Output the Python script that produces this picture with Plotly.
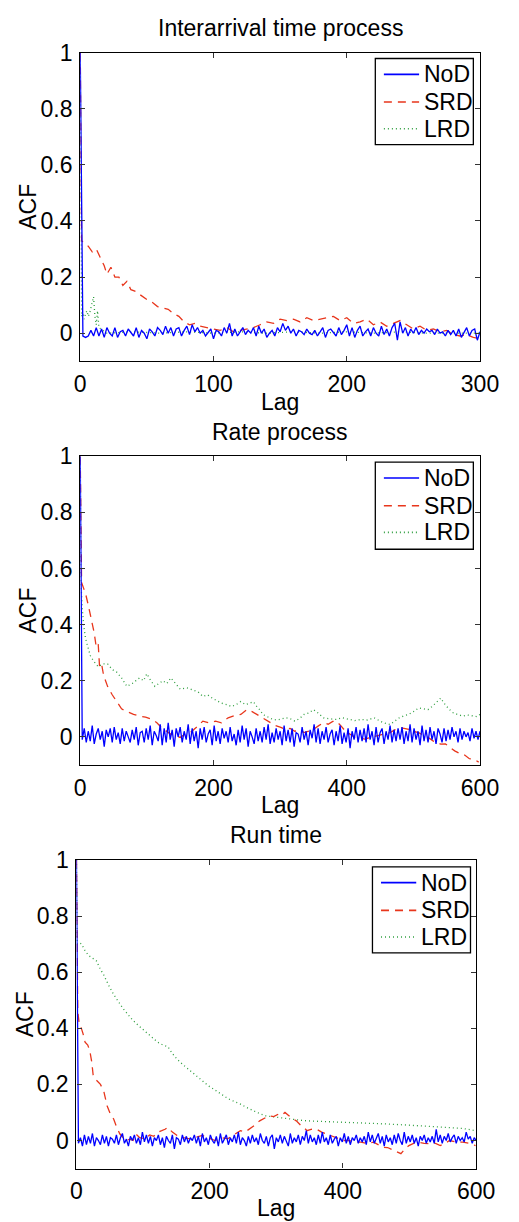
import plotly.graph_objects as go

# ---------------- data ----------------
TITLES = ["Interarrival time process", "Rate process", "Run time"]
SERIES = ["NoD", "SRD", "LRD"]

# Panel 1: Interarrival time process
LAG1_NOD = list(range(0, 301, 2))
NOD1 = [1.0, -0.01, -0.015, -0.01, 0.01, -0.01, 0.02, -0.01, 0.015, -0.015, 0.02, 0.0, -0.01, 0.02, -0.015, 0.005, 0.01, -0.01, 0.015, 0.0,
        -0.01, 0.02, -0.015, 0.01, 0.0, -0.02, 0.015, 0.005, -0.01, 0.02, 0.01, -0.005, 0.025, 0.0, 0.02, -0.01, 0.015, 0.02, -0.01, 0.01,
        0.025, -0.005, 0.03, 0.005, 0.02, 0.0, 0.01, -0.01, 0.005, 0.015, -0.02, 0.01, 0.005, -0.01, 0.02, 0.0, 0.035, -0.01, 0.015, -0.01,
        0.005, 0.02, -0.005, 0.01, 0.0, 0.02, -0.01, 0.025, 0.0, 0.015, -0.015, 0.0, 0.01, -0.01, 0.02, 0.005, 0.035, 0.01, 0.025, 0.0,
        0.015, -0.01, 0.01, 0.005, -0.005, 0.015, 0.0, -0.005, 0.01, -0.01, 0.005, 0.02, -0.015, 0.01, 0.015, 0.0, -0.01, 0.02, -0.005, 0.01,
        0.03, -0.01, 0.02, -0.015, 0.01, 0.025, -0.01, 0.005, 0.015, -0.01, 0.02, 0.0, -0.01, 0.025, -0.005, 0.015, -0.01, 0.02, 0.035, -0.025,
        0.04, 0.0, 0.02, -0.01, 0.015, 0.0, 0.02, -0.005, 0.01, 0.0, 0.015, 0.005, 0.01, -0.005, 0.015, 0.0, 0.005, -0.01, 0.01, -0.005,
        0.01, -0.01, 0.015, -0.015, 0.005, 0.02, -0.01, 0.01, 0.015, -0.025, 0.005]
LAG1_SRD = [0, 1, 3, 6, 9, 12, 15, 18, 20, 23,
            26, 29, 32, 35, 38, 41, 44, 47, 50, 54,
            58, 62, 66, 70, 74, 78, 82, 86, 90, 95,
            100, 105, 110, 115, 120, 125, 130, 135, 140, 145,
            150, 155, 160, 165, 170, 175, 180, 185, 190, 195,
            200, 205, 210, 215, 220, 225, 230, 235, 240, 245,
            250, 255, 260, 265, 270, 275, 280, 285, 290, 295,
            300]
SRD1 = [1.0, 0.33, 0.32, 0.31, 0.29, 0.30, 0.27, 0.24, 0.21, 0.235,
        0.20, 0.20, 0.17, 0.185, 0.155, 0.15, 0.14, 0.13, 0.12, 0.11,
        0.095, 0.09, 0.085, 0.07, 0.06, 0.04, 0.03, 0.035, 0.025, 0.02,
        0.015, 0.01, 0.02, 0.005, 0.01, 0.015, 0.02, 0.03, 0.04, 0.035,
        0.05, 0.045, 0.05, 0.04, 0.055, 0.045, 0.05, 0.055, 0.06, 0.045,
        0.055, 0.035, 0.04, 0.05, 0.03, 0.04, 0.025, 0.035, 0.045, 0.03,
        0.015, 0.025, 0.01, 0.015, 0.005, 0.01, -0.005, -0.01, -0.005, -0.015,
        -0.02]
LAG1_LRD = [0, 1, 2, 3, 4, 5, 6, 7, 8, 9, 10, 11, 12, 13, 14,
            20, 40, 60, 80, 100, 120, 140, 160, 180, 200, 220, 240, 260, 280, 300]
LRD1 = [1.0, 0.06, 0.07, 0.05, 0.07, 0.08, 0.06, 0.07, 0.09, 0.11, 0.13, 0.06, 0.03, 0.08, 0.02,
        0.0, 0.005, 0.0, 0.005, 0.0, 0.005, 0.0, 0.005, 0.0, 0.005, 0.0, 0.005, 0.0, 0.0, 0.0]

# Panel 2: Rate process
LAG2_NOD = list(range(0, 601, 3))
NOD2 = [1.0, -0.01, 0.03, -0.02, 0.02, -0.015, 0.04, -0.025, 0.01, 0.03, -0.01, 0.02, -0.035, 0.025, 0.0, 0.03, -0.02, 0.035, -0.01, 0.015,
        -0.025, 0.03, -0.015, 0.02, 0.0, -0.02, 0.025, -0.01, 0.035, -0.03, 0.015, 0.02, -0.02, 0.03, -0.01, 0.04, -0.03, 0.02, 0.005, -0.015,
        0.045, -0.03, 0.03, -0.02, 0.05, -0.01, 0.025, -0.035, 0.03, 0.0, 0.035, -0.02, 0.02, -0.01, 0.045, -0.025, 0.03, -0.015, 0.02, -0.04,
        0.03, -0.01, 0.035, -0.02, 0.01, 0.025, -0.03, 0.04, -0.015, 0.02, -0.025, 0.03, -0.005, 0.02, -0.02, 0.035, -0.015, 0.01, -0.03, 0.025,
        -0.02, 0.04, -0.01, 0.03, -0.035, 0.02, 0.0, -0.025, 0.03, -0.015, 0.02, -0.02, 0.035, -0.01, 0.045, -0.025, 0.015, -0.02, 0.03, -0.01,
        0.02, -0.03, 0.04, -0.015, 0.025, -0.02, 0.03, -0.035, 0.015, 0.01, -0.02, 0.035, -0.01, 0.02, -0.03, 0.025, -0.005, 0.045, -0.02, 0.03,
        -0.025, 0.02, -0.01, 0.035, -0.02, 0.01, 0.025, -0.03, 0.02, -0.015, 0.04, -0.025, 0.015, -0.02, 0.03, -0.04, 0.02, -0.01, 0.035, -0.02,
        0.025, -0.015, 0.03, -0.02, 0.045, -0.01, 0.02, -0.03, 0.035, -0.02, 0.015, 0.03, -0.025, 0.02, -0.01, 0.04, -0.02, 0.025, -0.015, 0.03,
        -0.01, 0.035, -0.025, 0.02, -0.015, 0.045, -0.02, 0.03, -0.01, 0.02, -0.03, 0.04, -0.015, 0.025, -0.02, 0.035, -0.01, 0.02, -0.025, 0.03,
        0.01, -0.02, 0.03, -0.015, 0.025, -0.01, 0.035, 0.0, 0.02, -0.02, 0.03, -0.01, 0.02, 0.0, 0.015, -0.015, 0.03, -0.005, 0.02, -0.01,
        0.02]
LAG2_SRD = [0, 1, 2, 5, 8, 12, 17, 21, 24, 27,
            29, 32, 35, 41, 48, 55, 62, 70, 80, 89,
            98, 108, 115, 122, 129, 136, 143, 150, 158, 165,
            175, 184, 193, 203, 212, 222, 231, 241, 250, 258,
            265, 272, 279, 286, 293, 300, 308, 315, 322, 329,
            336, 343, 350, 358, 365, 372, 379, 384, 391, 398,
            405, 412, 420, 427, 436, 446, 455, 465, 472, 479,
            486, 493, 500, 508, 515, 522, 530, 541, 548, 555,
            562, 570, 577, 584, 591, 598]
SRD2 = [1.0, 0.6, 0.55, 0.53, 0.51, 0.47, 0.42, 0.37, 0.32, 0.33,
        0.25, 0.26, 0.22, 0.18, 0.15, 0.126, 0.10, 0.09, 0.08, 0.074,
        0.07, 0.062, 0.05, 0.033, 0.02, 0.009, 0.005, -0.002, 0.01, 0.015,
        0.035, 0.056, 0.05, 0.056, 0.05, 0.068, 0.075, 0.08, 0.097, 0.09,
        0.08, 0.07, 0.062, 0.05, 0.04, 0.035, 0.027, 0.03, 0.02, 0.025,
        0.015, 0.02, 0.027, 0.04, 0.05, 0.045, 0.055, 0.056, 0.04, 0.02,
        0.01, -0.002, -0.005, -0.008, -0.002, 0.003, 0.01, 0.015, 0.025, 0.033,
        0.03, 0.027, 0.02, 0.015, 0.005, -0.002, -0.015, -0.026, -0.025, -0.037,
        -0.05, -0.06, -0.065, -0.078, -0.08, -0.09]
LAG2_LRD = [0, 1, 3, 5, 8, 11, 15, 20, 27, 34,
            41, 48, 55, 62, 70, 78, 84, 89, 95, 100,
            106, 112, 118, 124, 130, 136, 143, 150, 160, 170,
            177, 184, 191, 198, 205, 212, 220, 227, 234, 241,
            248, 255, 260, 265, 270, 274, 282, 289, 296, 308,
            315, 322, 329, 336, 343, 350, 357, 365, 372, 384,
            393, 403, 412, 422, 431, 441, 448, 455, 465, 472,
            479, 486, 493, 500, 508, 515, 522, 529, 536, 541,
            546, 553, 560, 567, 574, 581, 588, 595, 600]
LRD2 = [1.0, 0.55, 0.46, 0.40, 0.35, 0.32, 0.29, 0.27, 0.25, 0.26,
        0.26, 0.24, 0.23, 0.21, 0.18, 0.19, 0.2, 0.21, 0.2, 0.225,
        0.2, 0.18, 0.19, 0.2, 0.19, 0.21, 0.19, 0.17, 0.175, 0.167,
        0.16, 0.144, 0.15, 0.138, 0.13, 0.12, 0.115, 0.108, 0.115, 0.126,
        0.115, 0.12, 0.125, 0.108, 0.095, 0.08, 0.07, 0.062, 0.06, 0.068,
        0.065, 0.056, 0.065, 0.08, 0.085, 0.097, 0.085, 0.068, 0.065, 0.062,
        0.068, 0.062, 0.058, 0.062, 0.06, 0.068, 0.06, 0.05, 0.044, 0.055,
        0.068, 0.075, 0.08, 0.09, 0.103, 0.1, 0.097, 0.11, 0.125, 0.138,
        0.12, 0.1, 0.085, 0.08, 0.074, 0.078, 0.074, 0.072, 0.08]

# Panel 3: Run time
LAG3_NOD = list(range(0, 601, 3))
NOD3 = [1.0, -0.01, 0.01, -0.02, 0.02, -0.015, 0.015, -0.01, 0.025, -0.02, 0.01, 0.0, -0.015, 0.02, -0.01, 0.015, -0.02, 0.01, 0.005, -0.01,
        0.02, -0.015, 0.01, 0.025, -0.01, 0.005, -0.02, 0.015, 0.0, 0.02, -0.01, 0.01, -0.015, 0.03, -0.005, 0.02, -0.01, 0.015, -0.02, 0.01,
        0.0, 0.02, -0.015, 0.01, -0.025, 0.015, 0.0, -0.01, 0.02, -0.03, 0.01, 0.005, -0.015, 0.02, -0.005, 0.015, -0.01, 0.01, 0.0, 0.02,
        -0.01, 0.015, -0.02, 0.025, -0.005, 0.01, -0.015, 0.02, 0.0, -0.01, 0.015, -0.02, 0.025, -0.01, 0.005, 0.02, -0.015, 0.01, -0.005, 0.02,
        -0.01, 0.03, -0.015, 0.01, 0.0, -0.02, 0.015, -0.01, 0.02, -0.005, 0.01, -0.015, 0.025, 0.0, -0.01, 0.015, -0.02, 0.01, 0.02, -0.03,
        0.01, -0.005, 0.02, -0.01, 0.015, 0.0, -0.02, 0.025, -0.01, 0.01, -0.005, 0.02, -0.015, 0.015, 0.0, 0.035, -0.01, 0.02, -0.005, 0.01,
        -0.015, 0.02, -0.01, 0.03, -0.005, 0.01, -0.015, 0.02, -0.01, 0.005, 0.015, -0.02, 0.01, -0.005, 0.025, -0.01, 0.015, -0.015, 0.01, 0.0,
        0.02, -0.01, 0.01, -0.005, 0.015, -0.015, 0.03, -0.005, 0.02, -0.01, 0.01, 0.025, -0.01, 0.015, -0.02, 0.02, -0.005, 0.01, -0.015, 0.02,
        -0.01, 0.025, 0.0, -0.015, 0.03, -0.01, 0.015, -0.005, 0.02, -0.01, 0.01, -0.02, 0.015, 0.0, 0.02, -0.01, 0.01, -0.005, 0.015, -0.01,
        0.04, -0.005, 0.02, -0.01, 0.015, 0.0, 0.025, -0.005, 0.01, 0.02, -0.01, 0.015, 0.0, 0.01, -0.005, 0.03, 0.005, 0.015, -0.01, 0.01,
        0.0]
LAG3_SRD = [0, 1, 2, 4, 6, 10, 13, 17, 20, 23,
            25, 28, 32, 36, 41, 44, 46, 50, 53, 56,
            60, 65, 70, 75, 80, 85, 89, 95, 103, 110,
            116, 122, 128, 133, 137, 144, 151, 160, 170, 180,
            189, 198, 208, 218, 227, 236, 246, 253, 260, 268,
            275, 282, 289, 296, 303, 308, 313, 318, 322, 330,
            337, 342, 346, 352, 360, 368, 375, 385, 394, 401,
            408, 418, 427, 436, 446, 453, 460, 467, 475, 481,
            487, 493, 499, 506, 513, 522, 532, 539, 546, 553,
            560, 570, 580, 590, 599]
SRD3 = [1.0, 0.6, 0.46, 0.42, 0.41, 0.38, 0.35, 0.34, 0.32, 0.28,
        0.235, 0.22, 0.21, 0.2, 0.176, 0.15, 0.124, 0.1, 0.09, 0.076,
        0.05, 0.024, 0.01, 0.0, 0.005, 0.0, 0.024, 0.01, 0.006, 0.02,
        0.015, 0.03, 0.035, 0.04, 0.047, 0.03, 0.018, 0.01, 0.006, 0.012,
        0.018, 0.01, 0.0, 0.01, 0.006, 0.02, 0.035, 0.03, 0.041, 0.055,
        0.07, 0.08, 0.088, 0.085, 0.094, 0.09, 0.1, 0.09, 0.082, 0.07,
        0.053, 0.045, 0.035, 0.04, 0.041, 0.03, 0.024, 0.015, 0.006, 0.0,
        0.0, -0.005, -0.006, -0.01, -0.006, -0.015, -0.024, -0.025, -0.035, -0.04,
        -0.047, -0.03, -0.018, -0.01, -0.006, -0.01, -0.012, -0.01, -0.018, -0.01,
        0.0, -0.005, -0.006, -0.01, -0.018]
LAG3_LRD = [0, 1, 4, 8, 12, 18, 24, 30, 36, 41,
            48, 56, 63, 70, 77, 84, 93, 103, 112, 122,
            130, 137, 144, 151, 160, 170, 180, 189, 198, 208,
            218, 227, 236, 246, 255, 265, 275, 284, 293, 303,
            312, 322, 334, 346, 358, 370, 394, 418, 441, 465,
            489, 513, 537, 560, 580, 599]
LRD3 = [1.0, 0.7, 0.705, 0.7, 0.68, 0.66, 0.65, 0.64, 0.61, 0.59,
        0.555, 0.52, 0.495, 0.47, 0.45, 0.43, 0.41, 0.39, 0.37, 0.35,
        0.34, 0.335, 0.31, 0.29, 0.27, 0.25, 0.23, 0.21, 0.195, 0.18,
        0.165, 0.15, 0.14, 0.13, 0.118, 0.106, 0.096, 0.088, 0.085, 0.082,
        0.079, 0.076, 0.073, 0.07, 0.069, 0.068, 0.067, 0.065, 0.062, 0.059,
        0.056, 0.053, 0.05, 0.047, 0.043, 0.035]

X_TICKS = [[0, 100, 200, 300], [0, 200, 400, 600], [0, 200, 400, 600]]
X_RANGES = [[0, 300], [0, 600], [0, 600]]
Y_TICKS = [0, 0.2, 0.4, 0.6, 0.8, 1]
Y_RANGE = [-0.1, 1]

PANELS = [
    (LAG1_NOD, NOD1, LAG1_SRD, SRD1, LAG1_LRD, LRD1),
    (LAG2_NOD, NOD2, LAG2_SRD, SRD2, LAG2_LRD, LRD2),
    (LAG3_NOD, NOD3, LAG3_SRD, SRD3, LAG3_LRD, LRD3),
]

# ---------------- style / layout ----------------
W, H = 519, 1222
FONT = "Liberation Sans, Arial, Helvetica, sans-serif"
FS = 23
COLORS = {"NoD": "#0000FF", "SRD": "#E8361C", "LRD": "#2E9E3E"}
DASHES = {"NoD": "solid", "SRD": "8px,6px", "LRD": "1px,3px"}
WIDTHS = {"NoD": 1.3, "SRD": 1.3, "LRD": 1.3}

# pixel boxes of each axes: (left, right, top, bottom)
BOXES = [(78, 498, 40, 352), (78, 498, 448, 760), (74, 494, 856, 1168)]
TITLE_Y = [15, 423, 831]
LAG_Y = [393, 801, 1208]
ACF_X = [23, 23, 20]
# legend boxes (left, right, top, bottom)
LEG_BOXES = [(388, 491, 46, 133), (388, 491, 454, 542), (385, 488, 863, 950)]
LEG_ROWS = [16, 44, 71]

def px(x):
    return x / W

def py(y):
    return 1 - y / H

fig = go.Figure()
layout = dict(
    width=W, height=H, margin=dict(l=0, r=0, t=0, b=0),
    paper_bgcolor="white", plot_bgcolor="white",
    font=dict(family=FONT, size=FS, color="black"),
    showlegend=False, annotations=[], shapes=[],
)

for i, (panel, box) in enumerate(zip(PANELS, BOXES)):
    n = i + 1
    xa = "x" if n == 1 else f"x{n}"
    ya = "y" if n == 1 else f"y{n}"
    lagN, nod, lagS, srd, lagL, lrd = panel
    data = {"NoD": (lagN, nod), "SRD": (lagS, srd), "LRD": (lagL, lrd)}
    # draw LRD, SRD first, NoD on top
    for name in ["LRD", "SRD", "NoD"]:
        xs, ys = data[name]
        fig.add_trace(go.Scatter(
            x=xs, y=ys, mode="lines", name=name,
            line=dict(color=COLORS[name], width=WIDTHS[name], dash=DASHES[name]),
            xaxis=xa, yaxis=ya,
        ))
    l, r, t, b = box
    axis_common = dict(
        showline=True, linecolor="black", linewidth=1.3, mirror="ticks",
        ticks="inside", ticklen=5, tickwidth=1, tickcolor="#333",
        showgrid=False, zeroline=False,
        tickfont=dict(family=FONT, size=FS, color="black"),
    )
    layout["xaxis" if n == 1 else f"xaxis{n}"] = dict(
        domain=[px(l), px(r)], anchor=ya, range=X_RANGES[i],
        tickmode="array", tickvals=X_TICKS[i], ticklabelstandoff=2, **axis_common)
    layout["yaxis" if n == 1 else f"yaxis{n}"] = dict(
        domain=[py(b), py(t)], anchor=xa, range=Y_RANGE,
        tickmode="array", tickvals=Y_TICKS, ticklabelstandoff=2, **axis_common)

    # legend box (drawn)
    ll, lr, lt, lb = LEG_BOXES[i]
    layout["shapes"].append(dict(
        type="rect", xref="paper", yref="paper",
        x0=px(ll), x1=px(lr), y0=py(lb), y1=py(lt),
        line=dict(color="black", width=1.3), fillcolor="white", layer="above"))
    for name, dy in zip(SERIES, LEG_ROWS):
        yy = py(lt + dy)
        layout["shapes"].append(dict(
            type="line", xref="paper", yref="paper",
            x0=px(ll + 9), x1=px(ll + 46), y0=yy, y1=yy, layer="above",
            line=dict(color=COLORS[name], width=WIDTHS[name] + 0.3, dash=DASHES[name])))
        layout["annotations"].append(dict(
            text=name, x=px(ll + 49), y=yy, xref="paper", yref="paper",
            showarrow=False, xanchor="left", yanchor="middle",
            font=dict(family=FONT, size=FS, color="black")))

    cx = (l + r) / 2
    layout["annotations"] += [
        dict(text=TITLES[i], x=px(cx), y=py(TITLE_Y[i]), xref="paper", yref="paper",
             showarrow=False, xanchor="center", yanchor="middle",
             font=dict(family=FONT, size=FS, color="black")),
        dict(text="Lag", x=px(cx), y=py(LAG_Y[i]), xref="paper", yref="paper",
             showarrow=False, xanchor="center", yanchor="middle",
             font=dict(family=FONT, size=FS, color="black")),
        dict(text="ACF", x=px(ACF_X[i]), y=py((t + b) / 2), xref="paper", yref="paper",
             showarrow=False, xanchor="center", yanchor="middle", textangle=-90,
             font=dict(family=FONT, size=FS, color="black")),
    ]

fig.update_layout(**layout)
fig.write_html("out.html")
